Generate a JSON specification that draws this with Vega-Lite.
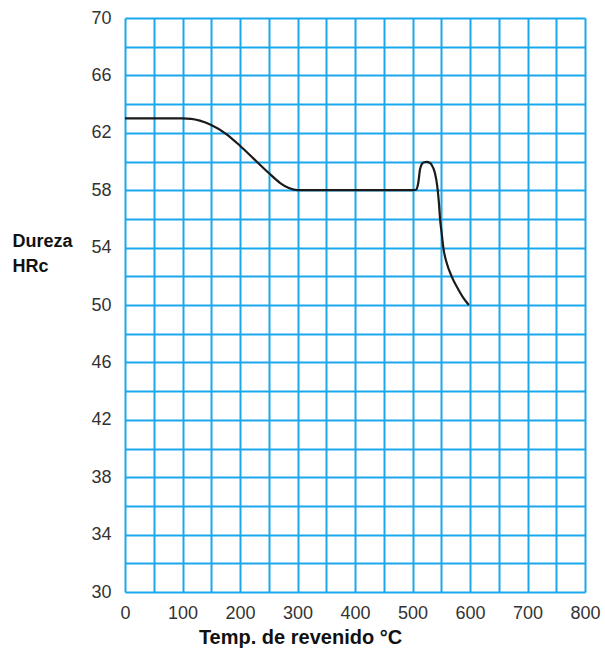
{
  "$schema": "https://vega.github.io/schema/vega-lite/v6.json",
  "width": 460,
  "height": 574,
  "autosize": "none",
  "padding": {"left": 125, "top": 18, "right": 20, "bottom": 61},
  "background": "white",
  "config": {"view": {"stroke": null}, "font": "Liberation Sans"},
  "data": {"values": [
    {"t": 0, "h": 63}, {"t": 50, "h": 63}, {"t": 100, "h": 63}, {"t": 115, "h": 62.97},
    {"t": 130, "h": 62.85}, {"t": 150, "h": 62.55}, {"t": 175, "h": 61.95}, {"t": 200, "h": 61.1},
    {"t": 225, "h": 60.15}, {"t": 250, "h": 59.2}, {"t": 270, "h": 58.5}, {"t": 285, "h": 58.15},
    {"t": 300, "h": 58}, {"t": 400, "h": 58}, {"t": 500, "h": 58}, {"t": 506, "h": 58.03},
    {"t": 510, "h": 58.5}, {"t": 513, "h": 59.44}, {"t": 516, "h": 59.8},
    {"t": 520, "h": 59.95}, {"t": 525, "h": 59.97}, {"t": 530, "h": 59.9}, {"t": 533.5, "h": 59.75},
    {"t": 539, "h": 59.2}, {"t": 543, "h": 58.3}, {"t": 546, "h": 57.1}, {"t": 548, "h": 55.96},
    {"t": 550.7, "h": 55.03}, {"t": 553.6, "h": 54.0}, {"t": 559.4, "h": 52.94}, {"t": 568, "h": 52.0},
    {"t": 579.7, "h": 51.08}, {"t": 588.4, "h": 50.5}, {"t": 598, "h": 50}
  ]},
  "mark": {"type": "line", "interpolate": "monotone", "color": "#1a1a1a", "strokeWidth": 2.2},
  "encoding": {
    "x": {
      "field": "t", "type": "quantitative",
      "scale": {"domain": [0, 800], "nice": false, "zero": false},
      "axis": {
        "values": [0,50,100,150,200,250,300,350,400,450,500,550,600,650,700,750,800],
        "labelExpr": "datum.value % 100 === 0 ? datum.label : ''",
        "domain": false, "ticks": false,
        "grid": true, "gridColor": "#1aa7ec", "gridWidth": 2, "gridOpacity": 1,
        "labelFontSize": 18, "labelColor": "#333333", "labelPadding": 12, "labelFlush": false,
        "title": "Temp. de revenido °C",
        "titleFontSize": 20, "titleFontWeight": "bold", "titleColor": "#111111",
        "titleX": 175, "titleY": 51, "titleAlign": "center", "titleBaseline": "alphabetic"
      }
    },
    "y": {
      "field": "h", "type": "quantitative",
      "scale": {"domain": [30, 70], "nice": false, "zero": false},
      "axis": {
        "values": [30,32,34,36,38,40,42,44,46,48,50,52,54,56,58,60,62,64,66,68,70],
        "labelExpr": "(datum.value - 30) % 4 === 0 ? datum.label : ''",
        "domain": false, "ticks": false,
        "grid": true, "gridColor": "#1aa7ec", "gridWidth": 2, "gridOpacity": 1,
        "labelFontSize": 18, "labelColor": "#333333", "labelPadding": 14, "labelFlush": false,
        "title": ["Dureza", "HRc"],
        "titleFontSize": 18, "titleFontWeight": "bold", "titleColor": "#111111",
        "titleAngle": 0, "titleAlign": "left", "titleBaseline": "alphabetic",
        "titleX": -113, "titleY": 228, "titleLineHeight": 25
      }
    }
  }
}
